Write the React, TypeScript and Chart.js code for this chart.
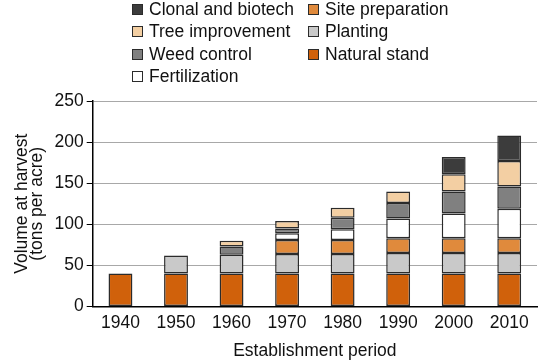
import React, { useEffect, useRef } from "react";
import { Chart, registerables } from "chart.js";

Chart.register(...registerables);

const periods = ["1940", "1950", "1960", "1970", "1980", "1990", "2000", "2010"];
const naturalStand = [40, 40, 40, 40, 40, 40, 40, 40];
const planting = [null, 22, 23, 24, 24, 25, 25, 25];
const sitePreparation = [null, null, null, 17, 17, 18, 18, 18];
const fertilization = [null, null, null, 8, 13, 24, 30, 36];
const weedControl = [null, null, 10, 6, 14, 19, 27, 27];
const treeImprovement = [null, null, 7, 9, 12, 14, 21, 31];
const clonalBiotech = [null, null, null, null, null, null, 21, 31];

const yTicks = [0, 50, 100, 150, 200, 250];

const FONT = "'Liberation Sans', Arial, Helvetica, sans-serif";
const FS = 17.5;
const BORDER = "#2b2b2b";

const series = [
  { label: "Natural stand", data: naturalStand, color: "#d0610b" },
  { label: "Planting", data: planting, color: "#c9c9c9" },
  { label: "Site preparation", data: sitePreparation, color: "#e08a3c" },
  { label: "Fertilization", data: fertilization, color: "#ffffff" },
  { label: "Weed control", data: weedControl, color: "#808080" },
  { label: "Tree improvement", data: treeImprovement, color: "#f3cfa3" },
  { label: "Clonal and biotech", data: clonalBiotech, color: "#3c3c3c" },
];

const legendLeft = ["Clonal and biotech", "Tree improvement", "Weed control", "Fertilization"];
const legendRight = ["Site preparation", "Planting", "Natural stand"];

function LegendItem({ label }: { label: string }) {
  const s = series.find((x) => x.label === label)!;
  return (
    <div style={{ display: "flex", alignItems: "center", height: 22.5 }}>
      <span
        style={{
          display: "inline-block",
          width: 9,
          height: 9,
          background: s.color,
          border: `1px solid ${BORDER}`,
          marginRight: 6,
        }}
      />
      <span style={{ fontSize: FS, fontFamily: FONT, color: "#111", whiteSpace: "nowrap" }}>{label}</span>
    </div>
  );
}

export default function App() {
  const ref = useRef<HTMLCanvasElement | null>(null);

  useEffect(() => {
    if (!ref.current) return;
    const chart = new Chart(ref.current, {
      type: "bar",
      data: {
        labels: periods,
        datasets: series.map((s) => ({
          label: s.label,
          data: s.data as any,
          backgroundColor: s.color,
          borderColor: BORDER,
          borderWidth: 1.5,
          borderSkipped: false,
          barPercentage: 0.43,
          categoryPercentage: 1,
        })),
      },
      options: {
        animation: false,
        responsive: false,
        maintainAspectRatio: false,
        layout: { padding: { top: 101, right: 6, left: 14, bottom: 0 } },
        plugins: {
          legend: { display: false },
          tooltip: { enabled: false },
        },
        scales: {
          x: {
            stacked: true,
            grid: { display: false, drawTicks: false },
            border: { display: true, color: "#000", width: 1.5 },
            ticks: { color: "#111", font: { family: FONT, size: FS }, padding: 6 },
            title: {
              display: true,
              text: "Establishment period",
              color: "#111",
              font: { family: FONT, size: FS, lineHeight: 1.0 },
              padding: { top: 3, bottom: 0 },
            },
          },
          y: {
            stacked: true,
            min: 0,
            max: 250,
            afterBuildTicks: (axis: any) => {
              axis.ticks = yTicks.map((v) => ({ value: v }));
            },
            grid: {
              color: (ctx: any) => (ctx.tick && ctx.tick.value === 0 ? "rgba(0,0,0,0)" : "#a8a8a8"),
              borderDash: [9, 7],
              drawTicks: true,
              tickLength: 6,
              tickColor: "#000",
              tickBorderDash: [],
              lineWidth: 1,
            },
            border: { display: true, color: "#000", width: 1.5, dash: [] },
            ticks: { color: "#111", font: { family: FONT, size: FS }, padding: 3 },
            title: {
              display: true,
              text: ["Volume at harvest", "(tons per acre)"],
              color: "#111",
              font: { family: FONT, size: FS, lineHeight: 0.9 },
              padding: { top: 0, bottom: 6 },
            },
          },
        },
      },
    });
    return () => chart.destroy();
  }, []);

  return (
    <div style={{ position: "fixed", left: 0, top: 0, width: 543, height: 360, background: "#fff" }}>
      <canvas ref={ref} width={543} height={360} style={{ position: "absolute", left: 0, top: 0 }} />
      <div style={{ position: "absolute", left: 132, top: -2 }}>
        {legendLeft.map((l) => (
          <LegendItem key={l} label={l} />
        ))}
      </div>
      <div style={{ position: "absolute", left: 308, top: -2 }}>
        {legendRight.map((l) => (
          <LegendItem key={l} label={l} />
        ))}
      </div>
    </div>
  );
}
